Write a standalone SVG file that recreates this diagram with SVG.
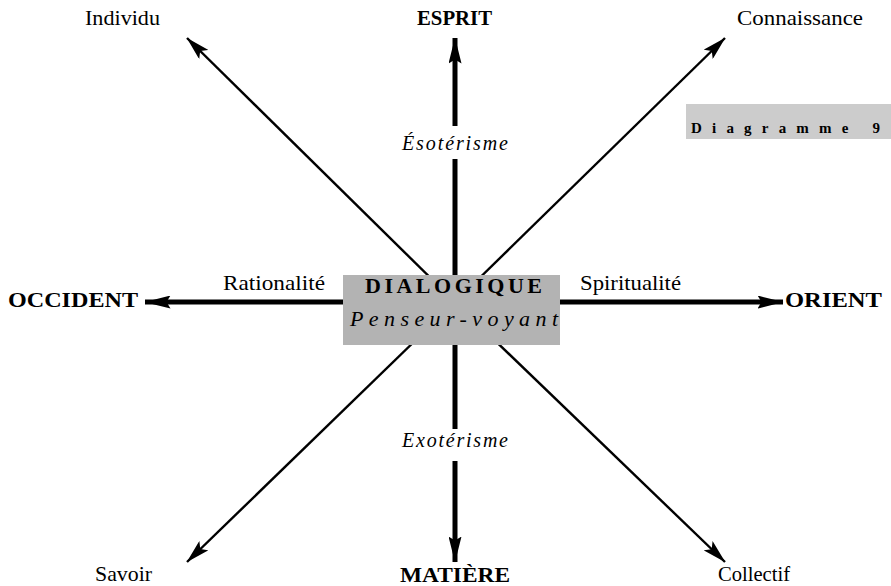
<svg xmlns="http://www.w3.org/2000/svg" width="891" height="586" viewBox="0 0 891 586">
<style>
text{font-family:"Liberation Serif","Times New Roman",serif;fill:#000}
.lbl{font-size:21px}
.big{font-size:22px;font-weight:bold}
.ital{font-size:20px;font-style:italic}
.thick{stroke:#000;stroke-width:5;fill:none}
.thin{stroke:#000;stroke-width:2.4;fill:none}
</style>
<defs>
<marker id="ah" viewBox="0 0 24 13" refX="23.5" refY="6.5" markerWidth="24" markerHeight="13" markerUnits="userSpaceOnUse" orient="auto">
<path d="M0,0 L24,6.5 L0,13 L5,6.5 Z" fill="#000"/>
</marker>
<marker id="ahT" viewBox="0 0 26 13" refX="25.5" refY="6.5" markerWidth="26" markerHeight="13" markerUnits="userSpaceOnUse" orient="auto">
<path d="M0,0 L26,6.5 L0,13 L4,6.5 Z" fill="#000"/>
</marker>
</defs>
<rect width="891" height="586" fill="#fff"/>
<g id="connectors">
<line class="thin" x1="455" y1="302" x2="187" y2="38" marker-end="url(#ah)"/>
<line class="thin" x1="455" y1="302" x2="725" y2="38" marker-end="url(#ah)"/>
<line class="thin" x1="455" y1="302" x2="187" y2="562" marker-end="url(#ah)"/>
<line class="thin" x1="455" y1="302" x2="725" y2="562" marker-end="url(#ah)"/>
<line class="thick" x1="455" y1="300" x2="455" y2="38" marker-end="url(#ahT)"/>
<line class="thick" x1="455" y1="304" x2="455" y2="562" marker-end="url(#ahT)"/>
<line class="thick" x1="457" y1="302" x2="145" y2="302" marker-end="url(#ahT)"/>
<line class="thick" x1="453" y1="302" x2="783" y2="302" marker-end="url(#ahT)"/>
</g>
<g id="center">
<rect x="343" y="275" width="217" height="70" fill="#b3b3b3"/>
<text x="365" y="293" style="font-size:22px;font-weight:bold" textLength="177" lengthAdjust="spacing">DIALOGIQUE</text>
<text x="350" y="326" style="font-size:22px;font-style:italic" textLength="208" lengthAdjust="spacing">Penseur-voyant</text>
</g>
<g id="esoterisme">
<rect x="398" y="126" width="114" height="33" fill="#fff"/>
<text class="ital" x="402" y="150" textLength="106" lengthAdjust="spacing">Ésotérisme</text>
</g>
<g id="exoterisme">
<rect x="398" y="429" width="114" height="32" fill="#fff"/>
<text class="ital" x="402" y="447" textLength="106" lengthAdjust="spacing">Exotérisme</text>
</g>
<g id="esprit"><text class="big" x="417" y="25" textLength="75" lengthAdjust="spacingAndGlyphs">ESPRIT</text></g>
<g id="matiere"><text class="big" x="400" y="582" textLength="110" lengthAdjust="spacingAndGlyphs">MATIÈRE</text></g>
<g id="occident"><text class="big" x="8" y="307" textLength="130" lengthAdjust="spacingAndGlyphs">OCCIDENT</text></g>
<g id="orient"><text class="big" x="785" y="307" textLength="97" lengthAdjust="spacingAndGlyphs">ORIENT</text></g>
<g id="individu"><text class="lbl" x="85" y="25" textLength="75" lengthAdjust="spacingAndGlyphs">Individu</text></g>
<g id="connaissance"><text class="lbl" x="737" y="25" textLength="126" lengthAdjust="spacingAndGlyphs">Connaissance</text></g>
<g id="savoir"><text class="lbl" x="95" y="581" textLength="57" lengthAdjust="spacingAndGlyphs">Savoir</text></g>
<g id="collectif"><text class="lbl" x="718" y="581" textLength="72" lengthAdjust="spacingAndGlyphs">Collectif</text></g>
<g id="rationalite"><text class="lbl" x="223" y="290" textLength="102" lengthAdjust="spacingAndGlyphs">Rationalité</text></g>
<g id="spiritualite"><text class="lbl" x="580" y="290" textLength="101" lengthAdjust="spacingAndGlyphs">Spiritualité</text></g>
<g id="diagramme">
<rect x="686" y="104" width="205" height="35" fill="#cccccc"/>
<text x="691" y="133" style="font-size:15px;font-weight:bold" textLength="189" lengthAdjust="spacing">Diagramme 9</text>
</g>
</svg>
